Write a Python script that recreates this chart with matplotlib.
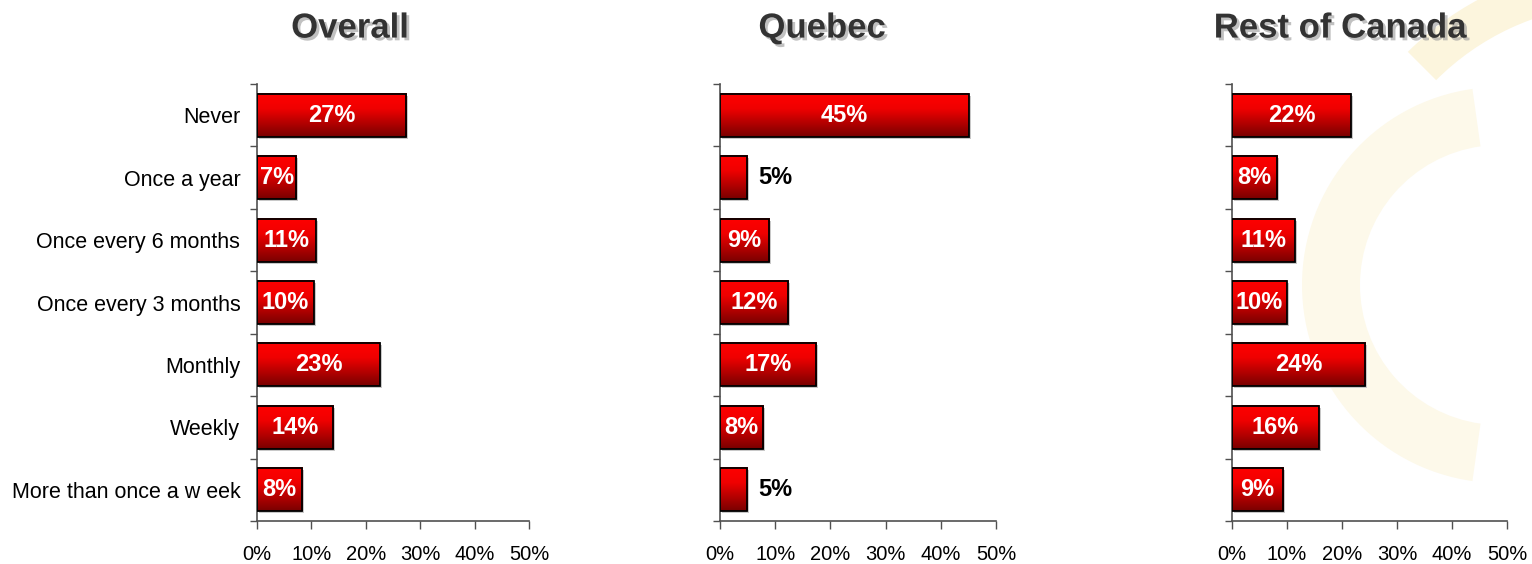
import matplotlib.pyplot as plt
import matplotlib.patheffects as pe
import matplotlib.transforms as mtransforms
import numpy as np
from matplotlib.colors import LinearSegmentedColormap
from matplotlib.patches import Rectangle, Wedge

plt.rcParams["font.family"] = ["Liberation Sans", "DejaVu Sans"]

categories = ["Never", "Once a year", "Once every 6 months", "Once every 3 months",
              "Monthly", "Weekly", "More than once a w eek"]
panel_titles = ["Overall", "Quebec", "Rest of Canada"]
overall = [27.4, 7.2, 10.8, 10.4, 22.6, 14.0, 8.3]
quebec = [45.1, 4.9, 8.9, 12.4, 17.4, 7.8, 4.9]
rest_of_canada = [21.6, 8.2, 11.4, 10.0, 24.2, 15.8, 9.3]
x_ticks = [0, 10, 20, 30, 40, 50]
x_tick_labels = ["0%", "10%", "20%", "30%", "40%", "50%"]

W, H = 1532, 564
fig = plt.figure(figsize=(W / 100, H / 100), dpi=100)

# faint logo arc in the background
bg = fig.add_axes([0, 0, 1, 1], zorder=-5)
bg.set_xlim(0, W)
bg.set_ylim(0, H)
bg.set_axis_off()
bg.add_patch(Wedge((1500, 279), 198, 98, 262, width=58, color="#fdf9ea", lw=0))
bg.add_patch(Wedge((1620, 300), 300, 95, 135, width=40, color="#fcf5dd", lw=0))

red_cmap = LinearSegmentedColormap.from_list(
    "bar", [(0, "#ff0000"), (0.35, "#f00000"), (1, "#7a0000")])
grad = np.linspace(0, 1, 64).reshape(-1, 1)

lefts = [257, 720, 1232]
widths = [272, 276, 275]
title_x = [0.342, 0.37, 0.393]
bottom, top = 521, 84
bar_h = 0.69

for k, (left, width, title, values) in enumerate(
        zip(lefts, widths, panel_titles, [overall, quebec, rest_of_canada])):
    ax = fig.add_axes([left / W, 1 - bottom / H, width / W, (bottom - top) / H])
    ax.patch.set_alpha(0)
    shadow = mtransforms.offset_copy(ax.transData, fig=fig, x=2, y=-2, units="dots")
    for i, v in enumerate(values):
        y0 = i - bar_h / 2
        ax.add_patch(Rectangle((0, y0), v, bar_h, facecolor="#c8c8c8",
                               edgecolor="none", transform=shadow, zorder=1))
        ax.imshow(grad, extent=[0, v, y0, y0 + bar_h], origin="lower",
                  cmap=red_cmap, aspect="auto", zorder=2, interpolation="bilinear")
        ax.add_patch(Rectangle((0, y0), v, bar_h, fill=False, edgecolor="black",
                               lw=1.3, zorder=3))
        label = f"{round(v)}%"
        if v < 6:
            ax.text(v + 2.0, i, label, ha="left", va="center", fontsize=17,
                    fontweight="bold", color="black", zorder=4)
        else:
            ax.text(v / 2, i, label, ha="center", va="center", fontsize=17,
                    fontweight="bold", color="white", zorder=4)

    ax.set_xlim(0, 50)
    ax.set_ylim(len(categories) - 0.5, -0.5)
    ax.set_aspect("auto")
    for s in ["top", "right"]:
        ax.spines[s].set_visible(False)
    for s in ["left", "bottom"]:
        ax.spines[s].set_color("#505050")
        ax.spines[s].set_linewidth(1.2)

    ax.set_xticks(x_ticks)
    ax.set_xticklabels(x_tick_labels, fontsize=14.5)
    ax.tick_params(axis="x", length=6, width=1, color="#505050", pad=11)

    ax.set_yticks(np.arange(-0.5, len(categories), 1.0))
    ax.set_yticklabels([])
    ax.tick_params(axis="y", which="major", length=5, width=1, color="#505050")
    ax.set_yticks(range(len(categories)), minor=True)
    if k == 0:
        ax.set_yticklabels(categories, minor=True, fontsize=15.5)
    else:
        ax.set_yticklabels([], minor=True)
    ax.tick_params(axis="y", which="minor", length=0, pad=12)

    ax.text(title_x[k], 1.128, title, transform=ax.transAxes, ha="center",
            va="center", fontsize=25, fontweight="bold", color="#333333",
            path_effects=[pe.withSimplePatchShadow(offset=(2, -2),
                                                   shadow_rgbFace="#999999", alpha=0.6)])

fig.savefig("out.png", dpi=100)
